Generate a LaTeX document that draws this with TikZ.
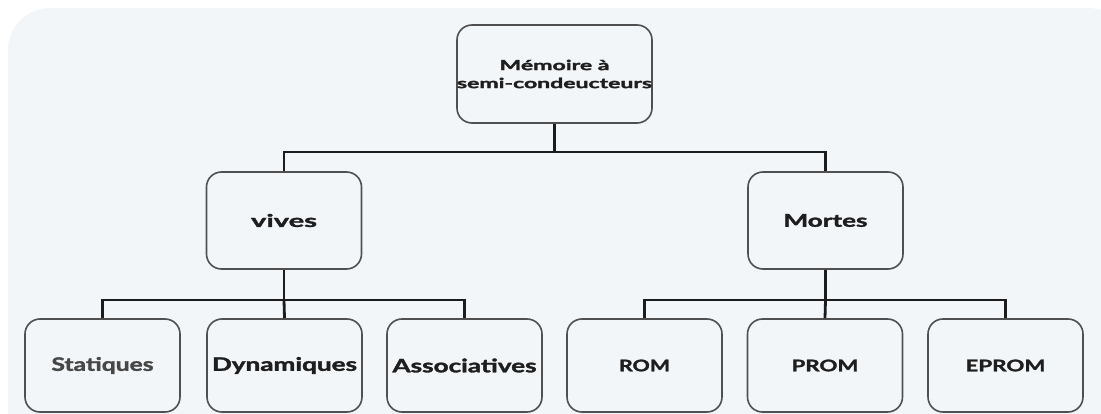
\documentclass[tikz,border=0pt]{standalone}
\usepackage{fontspec}
\usepackage{graphicx}
\setmainfont{Lato}[BoldFeatures={FakeBold=1.6}]
\definecolor{panel}{HTML}{F3F6F9}
\definecolor{boxline}{HTML}{505050}
\definecolor{conn}{HTML}{1C1C1C}
\definecolor{txt}{HTML}{1E1E1E}
\newcommand{\fitw}[2]{\resizebox{#1}{\height}{#2}}
\tikzset{
  box/.style={draw=boxline, line width=1.6pt, rounded corners=15pt, rectangle,
    minimum width=155pt, inner sep=0pt, text=txt, align=center},
  lvlone/.style={box, minimum height=97pt, font=\bfseries\fontsize{17.5}{20}\selectfont},
  lvltwo/.style={box, minimum height=93pt, font=\bfseries\fontsize{18.5}{21}\selectfont},
  capbox/.style={box, minimum height=93pt, font=\bfseries\fontsize{16}{19}\selectfont},
  connector/.style={draw=conn, line width=2.8pt}
}
\begin{document}
\begin{tikzpicture}[x=1pt,y=-1pt]
\useasboundingbox (0,0) rectangle (1101,414);
\fill[white] (0,0) rectangle (1101,414);
\fill[panel, rounded corners=42pt] (8,8) rectangle (1130,450);
% top
\node[box, minimum height=98pt, font=\bfseries\fontsize{14}{18}\selectfont] (top) at (554.5,74)
  {\fitw{110pt}{Mémoire à}\\\fitw{195pt}{semi-condeucteurs}};
% level one
\node[lvlone] (vives) at (284,220.5) {\fitw{66pt}{vives}};
\node[lvlone] (mortes) at (825.5,220.5) {\fitw{84pt}{Mortes}};
% level two
\node[lvltwo, text=black!72] (stat) at (102.5,365.5) {\fitw{102pt}{Statiques}};
\node[lvltwo] (dyn) at (284.5,365.5) {\fitw{145pt}{Dynamiques}};
\node[lvltwo] (assoc) at (464.5,365.5) {\fitw{144pt}{Associatives}};
\node[capbox] (rom) at (644.5,365.5) {\fitw{51pt}{ROM}};
\node[capbox] (prom) at (825,365.5) {\fitw{67pt}{PROM}};
\node[capbox] (eprom) at (1005.5,365.5) {\fitw{80pt}{EPROM}};
% connectors
\coordinate (busA) at (554.5,152);
\coordinate (busB) at (284,300);
\coordinate (busC) at (825.5,300);
\draw[connector] (top.south) -- (busA);
\draw[connector] (busA) -| (vives.north);
\draw[connector] (busA) -| (mortes.north);
\draw[connector] (vives.south) -- (busB);
\draw[connector] (busB) -| (stat.north);
\draw[connector] (busB) -| (assoc.north);
\draw[connector] (busB) -- (dyn.north);
\draw[connector] (mortes.south) -- (busC);
\draw[connector] (busC) -| (rom.north);
\draw[connector] (busC) -| (eprom.north);
\draw[connector] (busC) -- (prom.north);
\end{tikzpicture}
\end{document}
